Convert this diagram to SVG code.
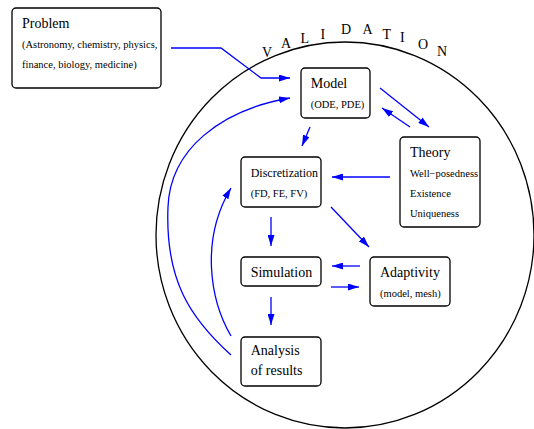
<svg xmlns="http://www.w3.org/2000/svg" width="534" height="429" viewBox="0 0 534 429">
<style>
.box{fill:#fff;stroke:#000;stroke-width:1.3}
text{font-family:'Liberation Serif','Times New Roman',serif;fill:#000}
.t{font-size:14px}
.s{font-size:10.5px}
.v{font-size:14px}
.c{fill:none;stroke:#0000ff;stroke-width:1.3}
</style>
<defs>
<marker id="ah" markerUnits="userSpaceOnUse" markerWidth="12" markerHeight="7" refX="11" refY="3.5" orient="auto">
<path d="M0,0 L11,3.5 L0,7 Z" fill="#0000ff"/>
</marker>
</defs>
<rect width="534" height="429" fill="#fff"/>
<ellipse id="validation-circle" cx="345" cy="235" rx="189" ry="193" fill="none" stroke="#000" stroke-width="1.3"/>
<g id="validation-label">
<text class="v" x="262" y="57">V</text>
<text class="v" x="281" y="47.5">A</text>
<text class="v" x="300.5" y="43">L</text>
<text class="v" x="320.5" y="38.5">I</text>
<text class="v" x="341" y="34">D</text>
<text class="v" x="362.5" y="33.5">A</text>
<text class="v" x="382.5" y="38.5">T</text>
<text class="v" x="400" y="42">I</text>
<text class="v" x="418" y="48.5">O</text>
<text class="v" x="437" y="56">N</text>
</g>
<g id="problem">
<rect class="box" x="12" y="8" width="149" height="80" rx="4"/>
<text class="t" x="22" y="28.3">Problem</text>
<text class="s" x="22" y="48">(Astronomy, chemistry, physics,</text>
<text class="s" x="22" y="68">finance, biology, medicine)</text>
</g>
<g id="model">
<rect class="box" x="301" y="68" width="69" height="50" rx="4"/>
<text class="t" x="310.7" y="87.7">Model</text>
<text class="s" x="310.7" y="107.7">(ODE, PDE)</text>
</g>
<g id="theory">
<rect class="box" x="400" y="137" width="80" height="90" rx="4"/>
<text class="t" x="410" y="157">Theory</text>
<text class="s" x="410" y="177">Well−posedness</text>
<text class="s" x="410" y="197">Existence</text>
<text class="s" x="410" y="216.5">Uniqueness</text>
</g>
<g id="discretization">
<rect class="box" x="241" y="157" width="80" height="50" rx="4"/>
<text class="s" x="250.7" y="176.7" style="font-size:12px">Discretization</text>
<text class="s" x="250.7" y="196.5">(FD, FE, FV)</text>
</g>
<g id="simulation">
<rect class="box" x="241" y="257" width="80" height="29" rx="4"/>
<text class="t" x="250.7" y="276.7">Simulation</text>
</g>
<g id="adaptivity">
<rect class="box" x="370" y="257" width="80" height="49" rx="4"/>
<text class="t" x="380" y="276.7">Adaptivity</text>
<text class="s" x="380" y="296.7">(model, mesh)</text>
</g>
<g id="analysis">
<rect class="box" x="241" y="337" width="80" height="49" rx="4"/>
<text class="t" x="250.7" y="355.3">Analysis</text>
<text class="t" x="250.7" y="374.7">of results</text>
</g>
<g id="connectors">
<path class="c" marker-end="url(#ah)" d="M171,48 L221,48 L261,78 L290,78"/>
<path class="c" marker-end="url(#ah)" d="M231,355 C190,318 165,280 168,207 C170,150 220,110 290,98"/>
<path class="c" marker-end="url(#ah)" d="M231,336 C210,300 200,240 231,188"/>
<path class="c" marker-end="url(#ah)" d="M310,127 L302,146"/>
<path class="c" marker-end="url(#ah)" d="M380,88 L429,127"/>
<path class="c" marker-end="url(#ah)" d="M410,127 L382,108"/>
<path class="c" marker-end="url(#ah)" d="M390,177 L332,177"/>
<path class="c" marker-end="url(#ah)" d="M271,217 L271,246"/>
<path class="c" marker-end="url(#ah)" d="M331,207 L369,247"/>
<path class="c" marker-end="url(#ah)" d="M360,266 L332,266"/>
<path class="c" marker-end="url(#ah)" d="M331,287 L359,287"/>
<path class="c" marker-end="url(#ah)" d="M271,297 L271,325"/>
</g>
</svg>
